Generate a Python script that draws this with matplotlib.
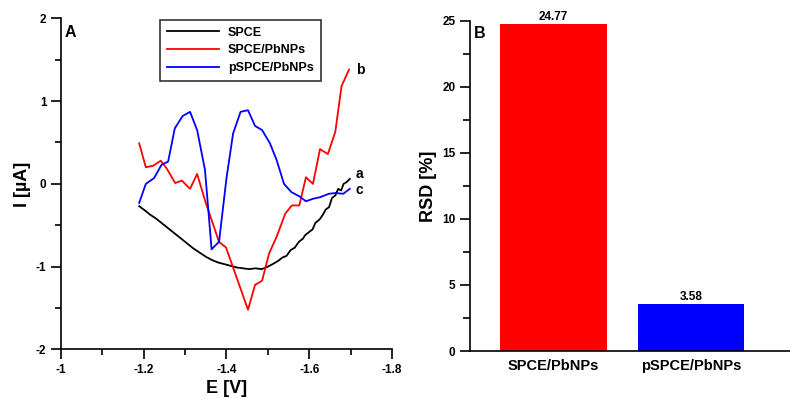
import matplotlib
matplotlib.use('Agg')
import matplotlib.pyplot as plt
from matplotlib.ticker import MultipleLocator

plt.rcParams['font.family'] = ['Liberation Sans', 'DejaVu Sans']
plt.rcParams['font.weight'] = 'bold'
plt.rcParams['axes.labelweight'] = 'bold'

# ---- panel A: voltammograms ----
E_spce = [-1.189, -1.200, -1.215, -1.230, -1.245, -1.260, -1.275, -1.290, -1.305,
          -1.320, -1.335, -1.350, -1.365, -1.380, -1.395, -1.410, -1.425, -1.440,
          -1.455, -1.470, -1.485, -1.500, -1.515, -1.525, -1.535, -1.545, -1.555,
          -1.565, -1.575, -1.585, -1.590, -1.600, -1.608, -1.615, -1.625, -1.632,
          -1.640, -1.648, -1.655, -1.663, -1.670, -1.677, -1.683, -1.690, -1.698]
I_spce = [-0.27, -0.31, -0.37, -0.42, -0.48, -0.54, -0.60, -0.66, -0.72,
          -0.78, -0.83, -0.88, -0.92, -0.95, -0.97, -0.99, -1.01, -1.02,
          -1.03, -1.02, -1.03, -1.00, -0.96, -0.93, -0.89, -0.87, -0.80,
          -0.77, -0.70, -0.66, -0.62, -0.58, -0.55, -0.47, -0.43, -0.38,
          -0.31, -0.28, -0.17, -0.14, -0.06, -0.08, 0.00, 0.02, 0.06]

E_pb = [-1.189, -1.205, -1.223, -1.241, -1.255, -1.276, -1.292, -1.312, -1.329,
        -1.350, -1.382, -1.399, -1.452, -1.469, -1.486, -1.503, -1.521, -1.542,
        -1.558, -1.576, -1.592, -1.609, -1.626, -1.645, -1.663, -1.678, -1.696]
I_pb = [0.49, 0.20, 0.22, 0.28, 0.19, 0.01, 0.04, -0.06, 0.12,
        -0.23, -0.70, -0.77, -1.52, -1.22, -1.17, -0.84, -0.64, -0.36,
        -0.26, -0.26, 0.08, 0.00, 0.42, 0.36, 0.63, 1.18, 1.38]

E_ppb = [-1.189, -1.205, -1.225, -1.243, -1.259, -1.275, -1.294, -1.312, -1.329,
         -1.348, -1.364, -1.382, -1.400, -1.416, -1.434, -1.452, -1.469, -1.486,
         -1.505, -1.521, -1.539, -1.557, -1.576, -1.592, -1.609, -1.627, -1.647,
         -1.664, -1.682, -1.698]
I_ppb = [-0.23, 0.00, 0.07, 0.23, 0.27, 0.67, 0.82, 0.87, 0.65,
         0.17, -0.79, -0.70, 0.07, 0.61, 0.87, 0.89, 0.70, 0.65,
         0.49, 0.29, 0.00, -0.10, -0.15, -0.21, -0.18, -0.16, -0.12,
         -0.11, -0.12, -0.06]

xticks_a = [-1.0, -1.2, -1.4, -1.6, -1.8]
xtick_labels_a = ['-1', '-1.2', '-1.4', '-1.6', '-1.8']
yticks_a = [-2, -1, 0, 1, 2]
ytick_labels_a = ['-2', '-1', '0', '1', '2']

# ---- panel B: RSD bars ----
electrodes = ['SPCE/PbNPs', 'pSPCE/PbNPs']
rsd = [24.77, 3.58]
bar_colors = ['#ff0000', '#0000ff']

fig = plt.figure(figsize=(7.9, 3.98), dpi=100)

axA = fig.add_axes([0.0772, 0.122, 0.419, 0.832])
axA.plot(E_spce, I_spce, color='black', lw=1.3, label='SPCE')
axA.plot(E_pb, I_pb, color='#ff0000', lw=1.3, label='SPCE/PbNPs')
axA.plot(E_ppb, I_ppb, color='#0000ff', lw=1.3, label='pSPCE/PbNPs')
axA.set_xlim(-1.0, -1.8)
axA.set_ylim(-2, 2)
axA.set_xticks(xticks_a)
axA.set_xticklabels(xtick_labels_a)
axA.set_yticks(yticks_a)
axA.set_yticklabels(ytick_labels_a)
axA.xaxis.set_minor_locator(MultipleLocator(0.1))
axA.yaxis.set_minor_locator(MultipleLocator(0.5))
for s in ['top', 'right']:
    axA.spines[s].set_visible(False)
for s in ['left', 'bottom']:
    axA.spines[s].set_linewidth(1.2)
axA.tick_params(which='major', direction='out', length=7, width=1.2, labelsize=8.5)
axA.tick_params(which='minor', direction='out', length=4.5, width=1.2)
axA.set_xlabel('E [V]', fontsize=13)
axA.set_ylabel('I [µA]', fontsize=13)
axA.xaxis.set_label_coords(0.5, -0.093)
axA.yaxis.set_label_coords(-0.09, 0.5)
axA.text(0.012, 0.98, 'A', transform=axA.transAxes, fontsize=11.5, ha='left', va='top')
axA.text(-1.712, 1.38, 'b', fontsize=10, ha='left', va='center')
axA.text(-1.712, 0.12, 'a', fontsize=10, ha='left', va='center')
axA.text(-1.712, -0.08, 'c', fontsize=10, ha='left', va='center')
leg = axA.legend(loc='upper left', bbox_to_anchor=(0.2025, 0.95),
                 bbox_transform=fig.transFigure, fontsize=9, frameon=True,
                 fancybox=False, handlelength=4.2, handletextpad=0.7,
                 labelspacing=0.45, borderpad=0.55, borderaxespad=0)
leg.get_frame().set_edgecolor('black')
leg.get_frame().set_linewidth(1.2)

axB = fig.add_axes([0.595, 0.118, 0.405, 0.83])
x = [0, 1]
bars = axB.bar(x, rsd, width=0.77, color=bar_colors)
axB.bar_label(bars, fmt='%.2f', padding=0.5, fontsize=8.5)
axB.set_xlim(-0.604, 1.715)
axB.set_ylim(0, 25)
axB.set_xticks(x)
axB.set_xticklabels(electrodes, fontsize=10.5)
axB.yaxis.set_major_locator(MultipleLocator(5))
axB.yaxis.set_minor_locator(MultipleLocator(2.5))
for s in ['top', 'right']:
    axB.spines[s].set_visible(False)
for s in ['left', 'bottom']:
    axB.spines[s].set_linewidth(1.2)
axB.tick_params(axis='x', length=0, pad=6)
axB.tick_params(axis='y', which='major', direction='out', length=7, width=1.2, labelsize=8.5)
axB.tick_params(axis='y', which='minor', direction='out', length=5, width=1.2)
axB.set_ylabel('RSD [%]', fontsize=13)
axB.yaxis.set_label_coords(-0.103, 0.5)
axB.text(0.012, 0.985, 'B', transform=axB.transAxes, fontsize=11.5, ha='left', va='top')

fig.savefig('out.png', dpi=100)
